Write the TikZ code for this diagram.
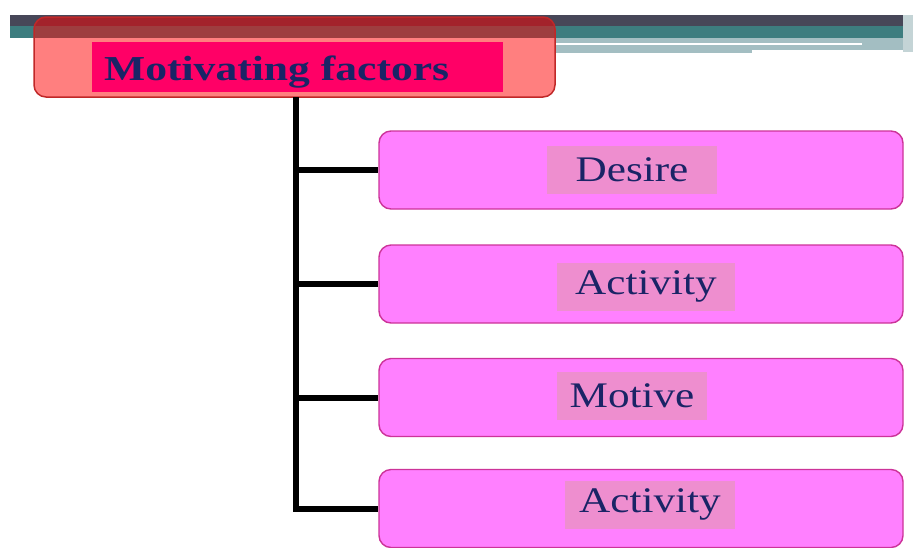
\documentclass[tikz,border=0pt]{standalone}
\usepackage{fontspec}
\setmainfont{Liberation Serif}
\usepackage{graphicx}
\definecolor{bardark}{HTML}{474758}
\definecolor{barteal}{HTML}{3D7D7F}
\definecolor{barlight}{HTML}{A3BEC2}
\definecolor{baredge}{HTML}{C4D4D6}
\definecolor{headline}{HTML}{C02828}
\definecolor{headtag}{HTML}{FF0066}
\definecolor{pinkfill}{HTML}{FF80FF}
\definecolor{pinkline}{HTML}{CC3399}
\definecolor{tagfill}{HTML}{EE8ECF}
\definecolor{navy}{HTML}{1A2466}
\tikzset{
  headbox/.style={draw=headline, line width=1.5pt, fill=red, fill opacity=0.5,
    rounded corners=12pt, minimum width=521pt, minimum height=80pt},
  headtagbox/.style={fill=headtag, minimum width=411pt, minimum height=50pt, inner sep=0pt},
  headtext/.style={inner sep=0pt, text=navy, font=\fontsize{35}{38}\selectfont\bfseries},
  itembox/.style={draw=pinkline, line width=1.4pt, fill=pinkfill,
    rounded corners=12pt, minimum width=524pt, minimum height=78pt},
  itemtag/.style={fill=tagfill, inner sep=0pt, minimum height=48pt, text=navy,
    font=\fontsize{36}{40}\selectfont},
  conn/.style={line width=6pt, black},
}
\newcommand{\wide}[1]{\raisebox{-2pt}{\scalebox{1.2}[1]{#1}}}
\begin{document}
\begin{tikzpicture}[x=1pt, y=-1pt]
\useasboundingbox (0,0) rectangle (915,547);
% banner across the top
\fill[bardark] (10,15) rectangle (903,26);
\fill[barteal] (10,26) rectangle (903,38);
\fill[barlight] (555,38) rectangle (903,50);
\fill[barlight] (555,50) rectangle (752,53);
\fill[white] (555,43) rectangle (862,45);
\fill[baredge] (903,15) rectangle (913,52);
% heading
\node[headbox] (head) at (294.5,57) {};
\node[headtagbox] (headtag) at (297.5,67) {};
\node[headtext, anchor=base west] (headlabel) at (104,80) {\scalebox{1.245}[1]{Motivating factors}};
% items
\node[itembox] (b1) at (641,170) {};
\node[itembox] (b2) at (641,284) {};
\node[itembox] (b3) at (641,397.5) {};
\node[itembox] (b4) at (641,508.5) {};
\node[itemtag, minimum width=170pt] (t1) at (632,170) {\wide{Desire}};
\node[itemtag, minimum width=178pt] (t2) at (646,286.5) {\wide{Activity}};
\node[itemtag, minimum width=150pt] (t3) at (632,395.5) {\wide{Motive}};
\node[itemtag, minimum width=170pt] (t4) at (650,504.5) {\wide{Activity}};
% connectors
\coordinate (stem) at (296,97);
\draw[conn] (stem) |- (b4.west);
\draw[conn] (stem |- b1.west) -- (b1.west);
\draw[conn] (stem |- b2.west) -- (b2.west);
\draw[conn] (stem |- b3.west) -- (b3.west);
\end{tikzpicture}
\end{document}
